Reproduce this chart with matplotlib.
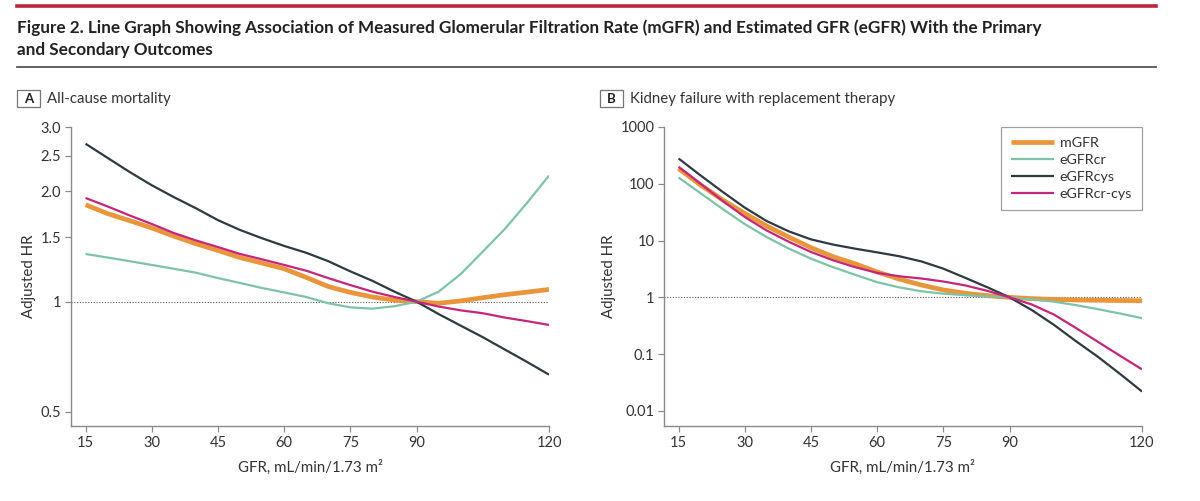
import numpy as np
import matplotlib.pyplot as plt
from matplotlib.lines import Line2D
from matplotlib.patches import Rectangle

gfr = [15, 20, 25, 30, 35, 40, 45, 50, 55, 60, 65, 70, 75, 80, 85, 90,
       95, 100, 105, 110, 115, 120]

# Panel A: all-cause mortality, adjusted HR
mort_mgfr = [1.84, 1.74, 1.665, 1.59, 1.51, 1.44, 1.38, 1.32, 1.275, 1.23, 1.165, 1.10,
             1.06, 1.03, 1.01, 1.0, 0.99, 1.005, 1.025, 1.045, 1.062, 1.08]
mort_cr = [1.35, 1.32, 1.29, 1.26, 1.23, 1.20, 1.16, 1.125, 1.09, 1.06, 1.03, 0.99,
           0.965, 0.957, 0.972, 1.0, 1.065, 1.19, 1.37, 1.58, 1.86, 2.21]
mort_cys = [2.70, 2.47, 2.26, 2.08, 1.93, 1.80, 1.67, 1.57, 1.49, 1.42, 1.36, 1.29,
            1.21, 1.14, 1.065, 1.0, 0.925, 0.86, 0.80, 0.74, 0.685, 0.632]
mort_crcys = [1.92, 1.82, 1.72, 1.63, 1.54, 1.47, 1.41, 1.35, 1.305, 1.26, 1.215, 1.16,
              1.11, 1.065, 1.03, 1.0, 0.97, 0.947, 0.93, 0.905, 0.885, 0.864]

# Panel B: kidney failure with replacement therapy, adjusted HR
kf_mgfr = [186, 95, 52, 30, 18, 11.5, 7.5, 5.2, 3.9, 2.8, 2.1, 1.65,
           1.35, 1.18, 1.07, 1.0, 0.95, 0.92, 0.9, 0.89, 0.88, 0.87]
kf_cr = [129, 68, 36, 19.5, 11.5, 7.2, 4.8, 3.4, 2.5, 1.85, 1.5, 1.28,
         1.16, 1.09, 1.04, 1.0, 0.92, 0.84, 0.73, 0.62, 0.52, 0.43]
kf_cys = [279, 140, 72, 38, 22, 14.5, 10.5, 8.5, 7.2, 6.2, 5.3, 4.3,
          3.2, 2.2, 1.5, 1.0, 0.6, 0.33, 0.17, 0.09, 0.045, 0.022]
kf_crcys = [199, 100, 50, 26, 15, 9.5, 6.3, 4.5, 3.4, 2.7, 2.35, 2.15,
            1.9, 1.62, 1.3, 1.0, 0.75, 0.5, 0.29, 0.165, 0.094, 0.054]

x_ticks = [15, 30, 45, 60, 75, 90, 120]
a_ticks = [0.5, 1, 1.5, 2.0, 2.5, 3.0]
a_labels = ['0.5', '1', '1.5', '2.0', '2.5', '3.0']
b_ticks = [0.01, 0.1, 1, 10, 100, 1000]
b_labels = ['0.01', '0.1', '1', '10', '100', '1000']
series_names = ['mGFR', 'eGFRcr', 'eGFRcys', 'eGFRcr-cys']

colors = {'mGFR': '#E8953B', 'eGFRcr': '#7FC3A6', 'eGFRcys': '#2E3A40',
          'eGFRcr-cys': '#C4267A'}
widths = {'mGFR': 3.4, 'eGFRcr': 1.6, 'eGFRcys': 1.6, 'eGFRcr-cys': 1.6}

plt.rcParams['font.family'] = ['Lato', 'DejaVu Sans']
W, H = 1200, 501
fig = plt.figure(figsize=(12, 5.01), dpi=100)


def fx(px):
    return px / W


def fy(py):
    return 1 - py / H


# header rules and title
fig.add_artist(Line2D([fx(17), fx(1156)], [fy(6), fy(6)], color='#B8283A', lw=2.6))
fig.add_artist(Line2D([fx(17), fx(1156)], [fy(67), fy(67)], color='#555555', lw=1.3))
fig.text(fx(17), fy(33), 'Figure 2. Line Graph Showing Association of Measured Glomerular '
         'Filtration Rate (mGFR) and Estimated GFR (eGFR) With the Primary',
         fontsize=12.3, fontweight='bold', color='#222222', va='baseline')
fig.text(fx(17), fy(55), 'and Secondary Outcomes', fontsize=12.3, fontweight='bold',
         color='#222222', va='baseline')


def panel_label(x0, letter, text):
    fig.add_artist(Rectangle((fx(x0), fy(107)), fx(23), 17 / H, fill=False,
                             edgecolor='#777777', lw=0.9))
    fig.text(fx(x0 + 11.5), fy(103), letter, fontsize=9.5, fontweight='bold',
             ha='center', va='baseline', color='#222222')
    fig.text(fx(x0 + 30), fy(103.5), text, fontsize=10.8, va='baseline', color='#333333')


panel_label(17, 'A', 'All-cause mortality')
panel_label(600, 'B', 'Kidney failure with replacement therapy')


def style_axes(ax, yticks, ylabels, ylim):
    ax.set_yscale('log')
    ax.set_xlim(11.7, 120)
    ax.set_ylim(*ylim)
    ax.set_xticks(x_ticks)
    ax.set_yticks(yticks)
    ax.set_yticklabels(ylabels)
    ax.minorticks_off()
    for s in ['top', 'right']:
        ax.spines[s].set_visible(False)
    for s in ['left', 'bottom']:
        ax.spines[s].set_color('#8a8a8a')
        ax.spines[s].set_linewidth(1.0)
    ax.tick_params(length=4, width=0.9, color='#8a8a8a', labelsize=10.5,
                   labelcolor='#333333', pad=3)
    ax.axhline(1, color='#555555', lw=0.8, ls=(0, (1, 1.5)), zorder=1)
    ax.set_xlabel('GFR, mL/min/1.73 m²', fontsize=10.8, color='#333333', labelpad=7)
    ax.set_ylabel('Adjusted HR', fontsize=10.8, color='#333333', labelpad=3)


ax_a = fig.add_axes([fx(71), fy(426), 478 / W, 299 / H])
style_axes(ax_a, a_ticks, a_labels, (0.4576, 3.0))
for name, vals in zip(series_names, [mort_mgfr, mort_cr, mort_cys, mort_crcys]):
    ax_a.plot(gfr, vals, color=colors[name], lw=widths[name], label=name,
              solid_capstyle='butt', solid_joinstyle='round',
              zorder=3 if name == 'mGFR' else 4)

ax_b = fig.add_axes([fx(664), fy(426), 478 / W, 299 / H])
style_axes(ax_b, b_ticks, b_labels, (0.00543, 1000))
for name, vals in zip(series_names, [kf_mgfr, kf_cr, kf_cys, kf_crcys]):
    ax_b.plot(gfr, vals, color=colors[name], lw=widths[name], label=name,
              solid_capstyle='butt', solid_joinstyle='round',
              zorder=3 if name == 'mGFR' else 4)

leg = ax_b.legend(loc='upper right', bbox_to_anchor=(1.0, 1.0), fontsize=10.3,
                  frameon=True, fancybox=False, handlelength=3.0, handletextpad=0.4,
                  labelspacing=0.35, borderpad=0.7, borderaxespad=0)
leg.get_frame().set_edgecolor('#8a8a8a')
leg.get_frame().set_linewidth(0.9)
for t in leg.get_texts():
    t.set_color('#333333')

fig.savefig('out.png', dpi=100)
